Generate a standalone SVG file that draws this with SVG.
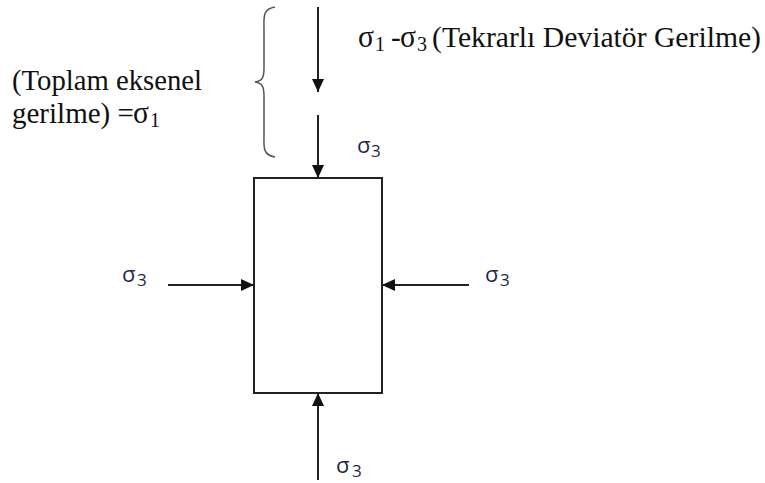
<svg xmlns="http://www.w3.org/2000/svg" width="765" height="483" viewBox="0 0 765 483">
<style>
.serif{font-family:"Liberation Serif","Times New Roman",serif;font-size:29px;fill:#111}
.sig{font-size:31px}
.ssub{font-size:20px}
.sans{font-family:"Open Sans","Liberation Sans",sans-serif;font-size:22px;fill:#1c2848}
.nsub{font-size:17px}
.ln{stroke:#222;stroke-width:2;fill:none}
</style>
<defs>
<marker id="ah" viewBox="0 0 13 12" refX="13" refY="6" markerWidth="13" markerHeight="12" markerUnits="userSpaceOnUse" orient="auto">
<path d="M0,0 L13,6 L0,12 z" fill="#111"/>
</marker>
</defs>
<rect width="765" height="483" fill="#fff"/>
<g id="specimen"><rect x="254" y="178" width="128" height="215" class="ln"/></g>
<g id="brace"><path d="M275,7 C262,9 264,18 264,30 L264,68 C264,78 262,81 255,82 C262,83 264,86 264,96 L264,134 C264,146 262,155 275,157" stroke="#555" stroke-width="1.5" fill="none"/></g>
<g id="connectors">
<line x1="318" y1="7" x2="318" y2="92" class="ln" marker-end="url(#ah)"/>
<line x1="318" y1="115" x2="318" y2="178" class="ln" marker-end="url(#ah)"/>
<line x1="168" y1="285" x2="254" y2="285" class="ln" marker-end="url(#ah)"/>
<line x1="469" y1="285" x2="382" y2="285" class="ln" marker-end="url(#ah)"/>
<line x1="318" y1="480" x2="318" y2="393" class="ln" marker-end="url(#ah)"/>
</g>
<g id="labels">
<text class="serif" y="47"><tspan class="sig" x="358" textLength="16" lengthAdjust="spacingAndGlyphs">σ</tspan><tspan class="ssub" x="375" dy="4">1</tspan><tspan x="391" dy="-4">-</tspan><tspan class="sig" x="400" textLength="16" lengthAdjust="spacingAndGlyphs">σ</tspan><tspan class="ssub" x="417" dy="4">3</tspan><tspan x="432" dy="-4" textLength="329" lengthAdjust="spacingAndGlyphs">(Tekrarlı Deviatör Gerilme)</tspan></text>
<text class="serif" x="12" y="90" textLength="190" lengthAdjust="spacingAndGlyphs">(Toplam eksenel</text>
<text class="serif" y="123"><tspan x="12">gerilme) =</tspan><tspan class="sig" x="133" textLength="16" lengthAdjust="spacingAndGlyphs">σ</tspan><tspan class="ssub" x="150" dy="4">1</tspan></text>
<text class="sans" y="153"><tspan x="357">σ</tspan><tspan class="nsub" x="371" dy="4">3</tspan></text>
<text class="sans" y="282"><tspan x="122">σ</tspan><tspan class="nsub" x="137" dy="4">3</tspan></text>
<text class="sans" y="282"><tspan x="485">σ</tspan><tspan class="nsub" x="500" dy="4">3</tspan></text>
<text class="sans" y="473"><tspan x="336">σ</tspan><tspan class="nsub" x="352" dy="4">3</tspan></text>
</g>
</svg>
